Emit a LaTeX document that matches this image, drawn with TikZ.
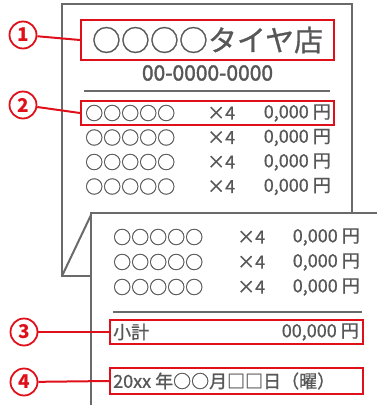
\documentclass[tikz,border=0pt]{standalone}
\usepackage{fontspec}
\setmainfont{Noto Sans CJK JP}
\newfontfamily\medfont{Noto Sans CJK JP}[FakeBold=0.9]
\newfontfamily\semifont{Noto Sans CJK JP}[FakeBold=1.8]
\usetikzlibrary{positioning}
\definecolor{ink}{HTML}{575757}
\definecolor{paperline}{HTML}{6A6A6A}
\definecolor{mark}{HTML}{E0101A}
\tikzset{
  txt/.style={text=ink, inner sep=0pt, font=\medfont\fontsize{18}{18}\selectfont},
  redbox/.style={draw=mark, line width=2pt, inner sep=0pt},
  numlabel/.style={circle, draw=mark, fill=white, line width=1.8pt, text=mark,
    minimum size=27pt, inner sep=0pt, font=\fontsize{19}{19}\selectfont\bfseries},
  link/.style={draw=mark, line width=2pt}
}

\begin{document}
\begin{tikzpicture}[x=1pt,y=-1pt]
\useasboundingbox (0,0) rectangle (377,405);
	\begin{scope}[draw=paperline, line width=2pt]
    % back slip with folded corner
    \draw (352,213) -- (352,4) -- (62,4) -- (62,276) -- (91,276);
    \draw (62,276) -- (91,215);
    \fill[white] (91,213) rectangle (377,405);
    \draw (377,213) -- (91,213) -- (91,405);
    \draw (84,91) -- (330,91);
    \draw (113,312) -- (362,312);
	\end{scope}

    \node[txt, font=\medfont\fontsize{29}{29}\selectfont] (shop) at (207.5,40) {○○○○タイヤ店};
    \node[txt, font=\semifont\fontsize{21}{21}\selectfont] (tel) at (207.5,73) {00-0000-0000};
    \foreach \y [count=\i] in {113,137.5,162,186.5} {
      \node[txt, anchor=west] (item\i) at (85,\y) {○○○○○};
      \node[txt, anchor=west] (qty\i) at (207,\y) {×4};
      \node[txt, anchor=east] (price\i) at (331,\y) {0,000 円};
    }
    \foreach \y [count=\i] in {237,262,287} {
      \node[txt, anchor=west] (fitem\i) at (113,\y) {○○○○○};
      \node[txt, anchor=west] (fqty\i) at (237,\y) {×4};
      \node[txt, anchor=east] (fprice\i) at (360,\y) {0,000 円};
    }
    \node[txt, anchor=west] (sublabel) at (113,332) {小計};
    \node[txt, anchor=east] (subtotal) at (359,332) {00,000 円};
    \node[txt, anchor=west] (date) at (113,381) {20xx 年○○月□□日（曜）};

    % red marks
    \node[redbox, minimum width=253pt, minimum height=40pt] (box1) at (207.5,40) {};
    \node[redbox, minimum width=253pt, minimum height=24pt] (box2) at (207.5,113) {};
    \node[redbox, minimum width=253pt, minimum height=24pt] (box3) at (236.5,332) {};
    \node[redbox, minimum width=253pt, minimum height=26pt] (box4) at (236.5,381) {};
    \node[numlabel] (n1) at (23,35) {1};
    \node[numlabel] (n2) at (23,105) {2};
    \node[numlabel] (n3) at (24,332) {3};
    \node[numlabel] (n4) at (24,382) {4};
    \draw[link] (n1) -- (box1.west);
    \draw[link] (n2) -- (box2.west);
    \draw[link] (n3) -- (box3.west);
    \draw[link] (n4) -- (box4.west);
	\end{tikzpicture}
\end{document}
